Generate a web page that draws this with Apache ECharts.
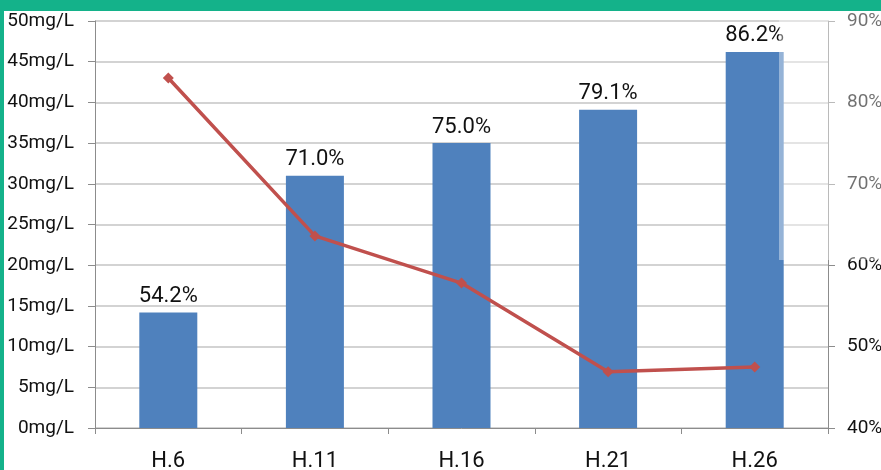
<!DOCTYPE html>
<html>
<head>
<meta charset="utf-8">
<script src="https://cdn.jsdelivr.net/npm/echarts@6/dist/echarts.min.js"></script>
<style>
  html, body { margin: 0; padding: 0; background: #fff; }
  #chart { width: 881px; height: 470px; }
</style>
</head>
<body>
<div id="chart"></div>
<script>
// 类别 / 数据
const categories = ['H.6', 'H.11', 'H.16', 'H.21', 'H.26'];
const barValues = [14.2, 31.0, 35.0, 39.1, 46.2];        // mg/L
const barLabels = ['54.2%', '71.0%', '75.0%', '79.1%', '86.2%'];
const lineValues = [83.0, 63.6, 57.8, 46.9, 47.5];       // %

const green = '#14b28a';
const axisGray = '#8c8c8c';
const gridGray = '#c4c4c4';

const myChart = echarts.init(document.getElementById('chart'));
const option = {
  backgroundColor: '#fff',
  animation: false,
  grid: { left: 95, right: 53, top: 21, bottom: 42, outerBoundsMode: 'none', containLabel: false },
  graphic: [
    // 右上の薄い貼り込み部分
    { type: 'rect', left: 779, top: 11, shape: { width: 102, height: 249 }, style: { fill: 'rgba(255,255,255,0.4)' }, z: 90 },
    { type: 'rect', left: 0, top: 0, shape: { width: 881, height: 11 }, style: { fill: green }, z: 100 },
    { type: 'rect', left: 0, top: 0, shape: { width: 4, height: 470 }, style: { fill: green }, z: 100 }
  ],
  xAxis: {
    type: 'category',
    data: categories,
    boundaryGap: true,
    axisLine: { lineStyle: { color: axisGray, width: 1 } },
    axisTick: { show: true, length: 6, lineStyle: { color: axisGray } },
    axisLabel: { color: '#111', fontSize: 22, margin: 22, fontFamily: 'Roboto' }
  },
  yAxis: [
    {
      type: 'value',
      min: 0, max: 50, interval: 5,
      axisLine: { show: true, lineStyle: { color: axisGray } },
      axisTick: { show: true, inside: false, length: 7, lineStyle: { color: axisGray } },
      axisLabel: { color: '#111', fontSize: 19, margin: 21, fontFamily: 'Roboto', formatter: '{value}mg/L' },
      splitLine: { lineStyle: { color: gridGray, width: 1.5 } }
    },
    {
      type: 'value',
      min: 40, max: 90, interval: 10,
      position: 'right',
      axisLine: { show: true, lineStyle: { color: axisGray } },
      axisTick: { show: true, length: 7, lineStyle: { color: axisGray } },
      axisLabel: { color: '#111', fontSize: 19, margin: 19, fontFamily: 'Roboto', formatter: '{value}%' },
      splitLine: { show: false }
    }
  ],
  series: [
    {
      name: '濃度',
      type: 'bar',
      yAxisIndex: 0,
      barWidth: 58,
      data: barValues,
      itemStyle: { color: '#4f81bd' },
      label: {
        show: true,
        position: 'top',
        distance: 5,
        color: '#111',
        fontSize: 22,
        fontFamily: 'Roboto',
        formatter: function (p) { return barLabels[p.dataIndex]; }
      }
    },
    {
      name: '割合',
      type: 'line',
      yAxisIndex: 1,
      data: lineValues,
      symbol: 'diamond',
      symbolSize: 11,
      lineStyle: { color: '#c0504d', width: 3.5 },
      itemStyle: { color: '#c0504d' },
      z: 5
    }
  ]
};
myChart.setOption(option);
</script>
</body>
</html>
